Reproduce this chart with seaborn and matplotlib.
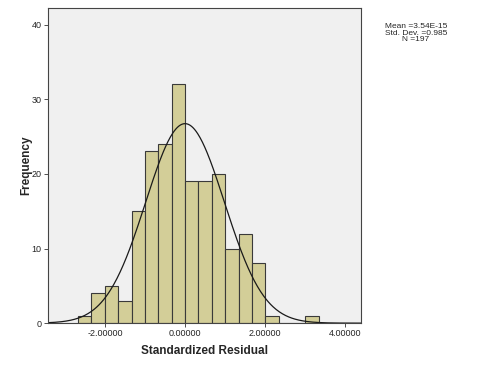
import numpy as np
import pandas as pd
import matplotlib
matplotlib.use("Agg")
import matplotlib.pyplot as plt
import seaborn as sns

# Histogram of standardized residuals (SPSS style)
BIN_WIDTH = 0.335
bin_left = [-8, -7, -6, -5, -4, -3, -2, -1, 0, 1, 2, 3, 4, 5, 6, 9]   # in units of bin width
counts = [1, 4, 5, 3, 15, 23, 24, 32, 19, 19, 20, 10, 12, 8, 1, 1]
mean_val = 3.54e-15
std_val = 0.985
n_obs = 197

sns.set_style("white")
plt.rcParams["font.family"] = ["Liberation Sans", "DejaVu Sans"]

df = pd.DataFrame({
    "x": [(b + 0.5) * BIN_WIDTH for b in bin_left],
    "count": counts,
})
edges = [float(e) for e in np.arange(-8, 11) * BIN_WIDTH]

fig = plt.figure(figsize=(4.82, 3.71), dpi=100)
ax = fig.add_axes([0.0996, 0.129, 0.649, 0.849])
ax.set_facecolor("#f0f0f0")

sns.histplot(data=df, x="x", weights="count", bins=edges, ax=ax,
             color="#d3ce98", alpha=1, edgecolor="#3a3a3a", linewidth=0.8)

# fitted normal curve
xs = np.linspace(-3.43, 4.4, 400)
ys = n_obs * BIN_WIDTH * np.exp(-0.5 * ((xs - mean_val) / std_val) ** 2) / (std_val * np.sqrt(2 * np.pi))
sns.lineplot(x=xs, y=ys, ax=ax, color="#1a1a1a", linewidth=0.9)

ax.set_xlim(-3.43, 4.4)
ax.set_ylim(0, 42.2)
ax.set_xticks([-2, 0, 2, 4])
ax.set_xticklabels(["-2.00000", "0.00000", "2.00000", "4.00000"])
ax.set_yticks([0, 10, 20, 30, 40])
ax.tick_params(axis="both", labelsize=6.5, length=3, width=0.6, color="#333333", direction="out",
               left=True, bottom=True, pad=1.5)
ax.set_xlabel("Standardized Residual", fontsize=8.5, fontweight="bold", labelpad=5)
ax.set_ylabel("Frequency", fontsize=8.5, fontweight="bold", labelpad=0)
for s in ax.spines.values():
    s.set_color("#444444")
    s.set_linewidth(0.8)

fig.text(0.863, 0.929, f"Mean ={mean_val:.2E}", ha="center", va="center", fontsize=6)
fig.text(0.863, 0.911, f"Std. Dev. ={std_val}", ha="center", va="center", fontsize=6)
fig.text(0.863, 0.893, f"N ={n_obs}", ha="center", va="center", fontsize=6)

fig.savefig("out.png", dpi=100)
